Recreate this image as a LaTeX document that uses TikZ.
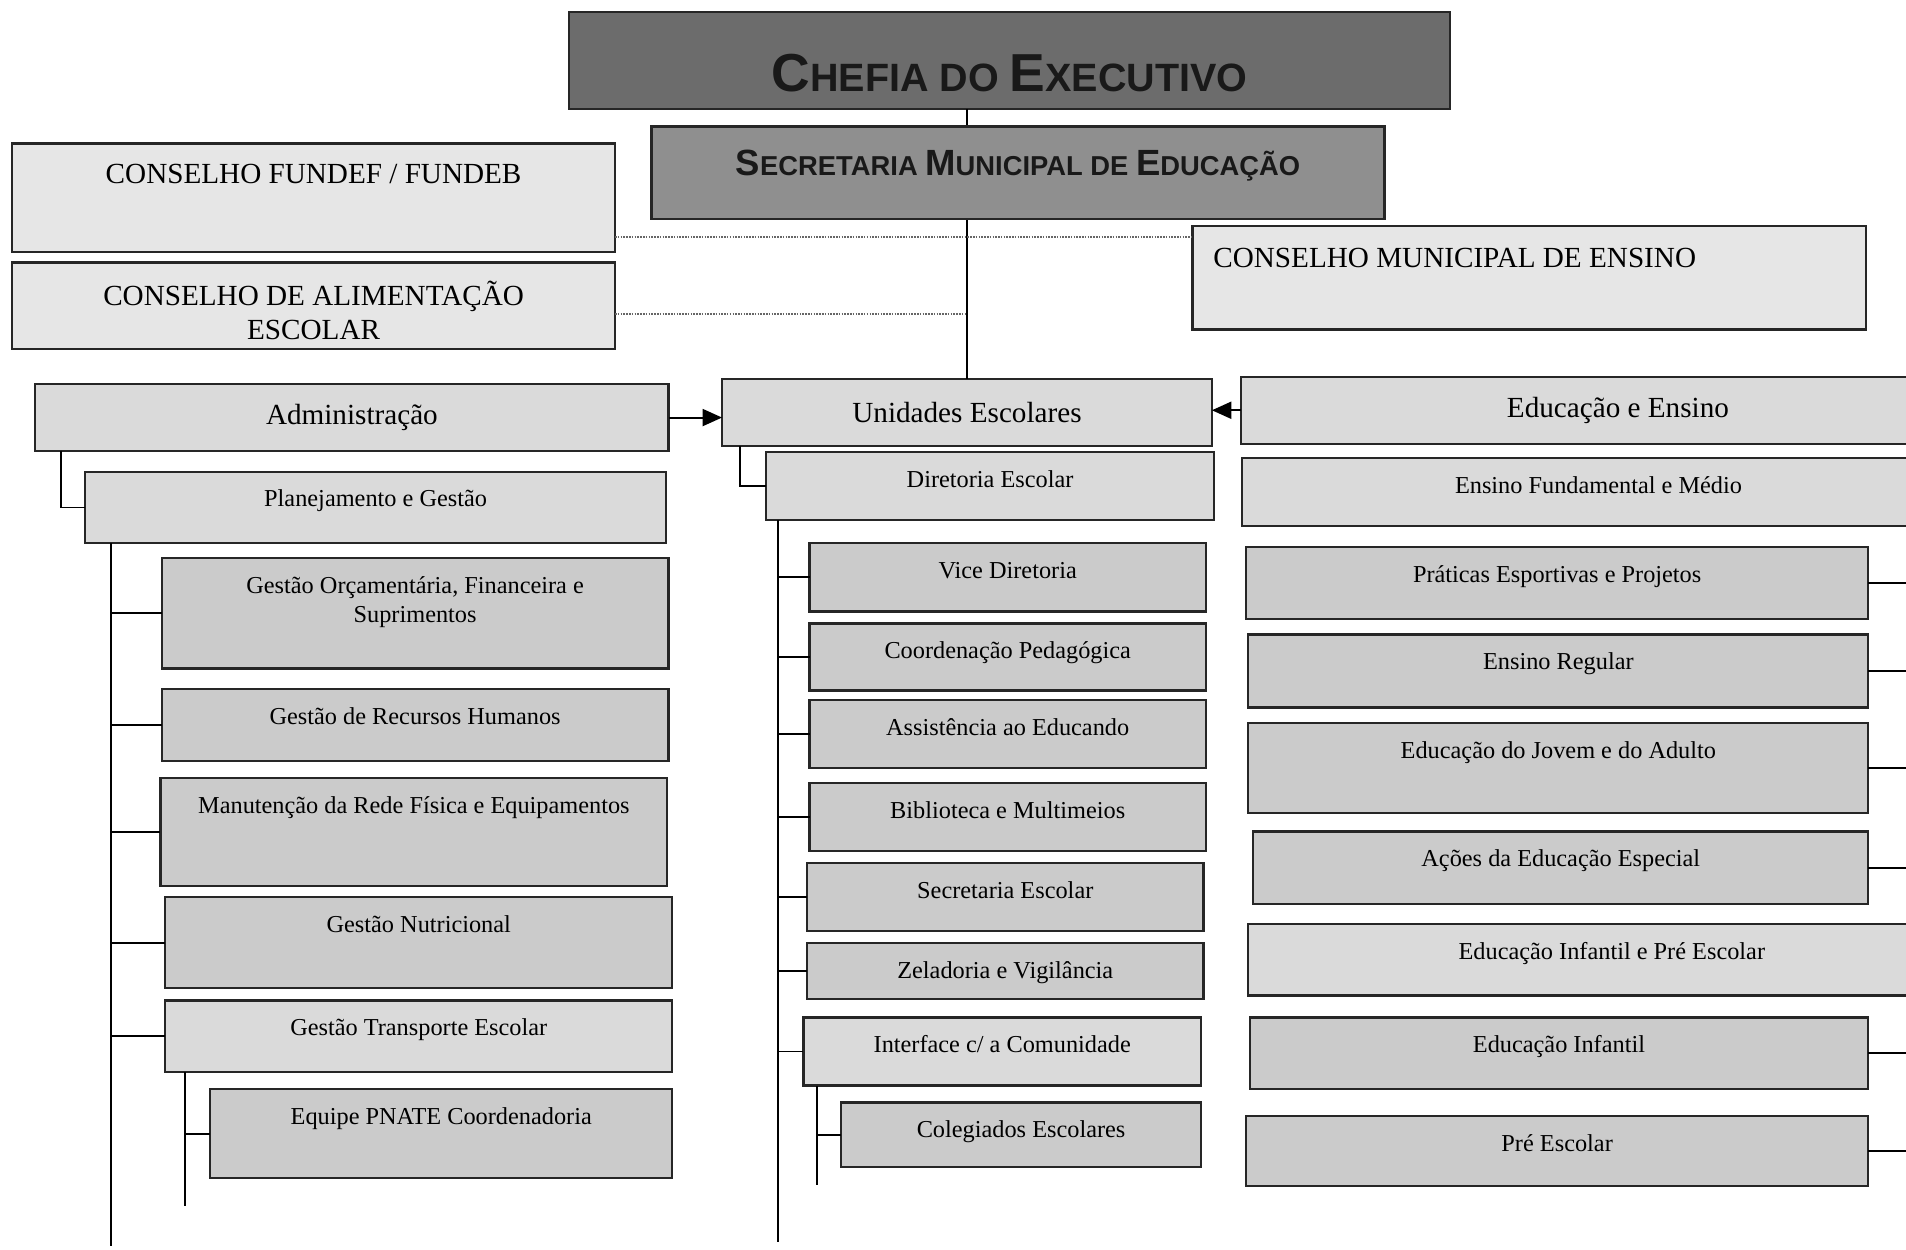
\documentclass[tikz,border=0pt]{standalone}
\usepackage{fontspec}
\setmainfont{Liberation Serif}
\newfontfamily\headfont{Liberation Sans}
\usetikzlibrary{positioning,arrows.meta,fit}

\definecolor{chefgray}{HTML}{6C6C6C}
\definecolor{secgray}{HTML}{8F8F8F}
\definecolor{conspale}{HTML}{E6E6E6}
\definecolor{midgray}{HTML}{DADADA}
\definecolor{leafgray}{HTML}{CBCBCB}
\definecolor{edgegray}{HTML}{262626}

% big initial + smaller capitals
\newcommand\hcap[4]{{\fontsize{#1}{#1}\selectfont #3}{\fontsize{#2}{#2}\selectfont #4}}

\tikzset{
  box/.style={draw=edgegray, line width=1.8pt, inner sep=0pt, outer sep=0pt},
  lbl/.style={anchor=base, inner sep=0pt, align=center, font=\fontsize{20}{24}\selectfont},
  bigl/.style={inner sep=0pt, align=center, font=\fontsize{24}{28}\selectfont},
  head/.style={anchor=base, inner sep=0pt, font=\headfont\bfseries, text=black!90},
  link/.style={line width=1.6pt, black},
  dotlink/.style={line width=1.3pt, gray!80!black, densely dotted},
  arr/.style={link, -{Triangle[length=16pt,width=14pt]}}
}

\begin{document}
\begin{tikzpicture}[x=1pt,y=-1pt]
  \useasboundingbox (0,0) rectangle (1568,1028);
  \clip (0,0) rectangle (1568,1028);
  \fill[white] (0,0) rectangle (1568,1028);

  % top
  \node[box, fill=chefgray, fit={(468,10) (1193,90)}] (chefia) {};
  \node[head] (chefia-t) at ([yshift=-65pt]chefia.north) {\hcap{44}{32.5}{C}{HEFIA DO }\hcap{44}{32.5}{E}{XECUTIVO}};

  % councils
  \node[box, fill=conspale, fit={(10,118) (506,207)}] (fundef) {};
  \node[bigl, anchor=base] (fundef-t) at ([yshift=-33pt]fundef.north) {CONSELHO FUNDEF / FUNDEB};
  \node[box, fill=conspale, fit={(10,216) (506,287)}] (alim) {};
  \node[bigl] (alim-t) at ([yshift=-4pt]alim.center) {CONSELHO DE ALIMENTAÇÃO\\ESCOLAR};
  \node[box, fill=conspale, fit={(981,186) (1535,271)}] (munic) {};
  \node[bigl, anchor=base west] (munic-t) at ([xshift=17pt,yshift=-34pt]munic.north west) {CONSELHO MUNICIPAL DE ENSINO};

  % main row
  \node[box, fill=midgray, fit={(29,316) (550,371)}] (adm) {};
  \node[bigl] (adm-t) at (adm.center) {Administração};
  \node[box, fill=midgray, fit={(594,312) (997,367)}] (unid) {};
  \node[bigl] (unid-t) at (unid.center) {Unidades Escolares};
  \node[box, fill=midgray, fit={(1021,310) (1641,365)}] (edu) {};
  \node[bigl] (edu-t) at (edu.center) {Educação e Ensino};

  \node[box, fill=midgray, fit={(70,388) (548,447)}] (plan) {};
  \node[lbl] (plan-t) at ([yshift=-29pt]plan.north) {Planejamento e Gestão};
  \node[box, fill=midgray, fit={(630,372) (999,428)}] (dir) {};
  \node[lbl] (dir-t) at ([yshift=-29pt]dir.north) {Diretoria Escolar};
  \node[box, fill=midgray, fit={(1022,377) (1608,433)}] (efm) {};
  \node[lbl] (efm-t) at ([yshift=-29pt]efm.north) {Ensino Fundamental e Médio};

  \coordinate (admend) at (91,1025);
  \coordinate (unidend) at (640,1022);
  \coordinate (eduend) at (1600,1000);

  \draw[link] ([xshift=21pt]adm.south west) |- (plan.west);
  \draw[link] (plan.south -| admend) -- (admend);
  \draw[link] ([xshift=15pt]unid.south west) |- (dir.west);
  \draw[link] (dir.south -| unidend) -- (unidend);

  \node[box, fill=leafgray, fit={(133,459) (550,550)}] (gorc) {};
  \node[lbl] (gorc-t) at ([yshift=-53pt]gorc.north) {Gestão Orçamentária, Financeira e\\Suprimentos};
  \draw[link] (gorc.west -| admend) -- (gorc.west);

  \foreach \nm/\fc/\xa/\ya/\xb/\yb/\txt in {
    grh/leafgray/133/567/550/626/{Gestão de Recursos Humanos},
    manut/leafgray/132/640/549/729/{Manutenção da Rede Física e Equipamentos},
    gnut/leafgray/136/738/553/813/{Gestão Nutricional},
    gtra/midgray/136/823/553/882/{Gestão Transporte Escolar}}{
    \node[box, fill=\fc, fit={(\xa,\ya) (\xb,\yb)}] (\nm) {};
    \node[lbl] (\nm-t) at ([yshift=-29pt]\nm.north) {\txt};
    \draw[link] (\nm.west -| admend) -- (\nm.west);
  }

  \foreach \nm/\fc/\xa/\ya/\xb/\yb/\txt in {
    vice/leafgray/666/447/992/503/{Vice Diretoria},
    coord/leafgray/666/513/992/568/{Coordenação Pedagógica},
    assist/leafgray/666/576/992/632/{Assistência ao Educando},
    bibli/leafgray/666/644/992/700/{Biblioteca e Multimeios},
    secesc/leafgray/664/710/990/766/{Secretaria Escolar},
    zelad/leafgray/664/776/990/822/{Zeladoria e Vigilância},
    iface/midgray/661/837/988/893/{Interface c/ a Comunidade}}{
    \node[box, fill=\fc, fit={(\xa,\ya) (\xb,\yb)}] (\nm) {};
    \node[lbl] (\nm-t) at ([yshift=-29pt]\nm.north) {\txt};
    \draw[link] (\nm.west -| unidend) -- (\nm.west);
  }

  \foreach \nm/\fc/\xa/\ya/\xb/\yb/\txt in {
    prat/leafgray/1025/450/1537/509/{Práticas Esportivas e Projetos},
    ereg/leafgray/1027/522/1537/582/{Ensino Regular},
    eja/leafgray/1027/595/1537/669/{Educação do Jovem e do Adulto},
    acoes/leafgray/1031/684/1537/744/{Ações da Educação Especial},
    eipe/midgray/1027/760/1625/819/{Educação Infantil e Pré Escolar},
    einf/leafgray/1028/837/1537/896/{Educação Infantil},
    pesc/leafgray/1025/918/1537/976/{Pré Escolar}}{
    \node[box, fill=\fc, fit={(\xa,\ya) (\xb,\yb)}] (\nm) {};
    \node[lbl] (\nm-t) at ([yshift=-29pt]\nm.north) {\txt};
    \draw[link] (\nm.east) -- (\nm.east -| eduend);
  }

  % third level
  \coordinate (traend) at (152,992);
  \coordinate (ifend) at (672,975);
  \node[box, fill=leafgray, fit={(173,896) (553,969)}] (pnate) {};
  \node[lbl] (pnate-t) at ([yshift=-29pt]pnate.north) {Equipe PNATE Coordenadoria};
  \draw[link] (gtra.south -| traend) -- (traend);
  \draw[link] (pnate.west -| traend) -- (pnate.west);
  \node[box, fill=leafgray, fit={(692,907) (988,960)}] (coleg) {};
  \node[lbl] (coleg-t) at ([yshift=-29pt]coleg.north) {Colegiados Escolares};
  \draw[link] (iface.south -| ifend) -- (ifend);
  \draw[link] (coleg.west -| ifend) -- (coleg.west);

  % links between the top boxes
  \draw[link] (unid.north |- chefia.south) -- (unid.north);
  \coordinate (dotrow) at (700,195);
  \draw[dotlink] (fundef.east |- dotrow) -- (munic.west |- dotrow);
  \draw[dotlink] ([yshift=-7pt]alim.east) -- ([yshift=-7pt]alim.east -| unid.north);
  \draw[arr] (adm.east) -- (adm.east -| unid.west);
  \draw[arr] (edu.west) -- (edu.west -| unid.east);

  \node[box, fill=secgray, fit={(536,104) (1139,180)}] (secr) {};
  \node[head] (secr-t) at ([yshift=-40pt]secr.north) {\hcap{30}{22.5}{S}{ECRETARIA }\hcap{30}{22.5}{M}{UNICIPAL DE }\hcap{30}{22.5}{E}{DUCAÇÃO}};
\end{tikzpicture}
\end{document}
